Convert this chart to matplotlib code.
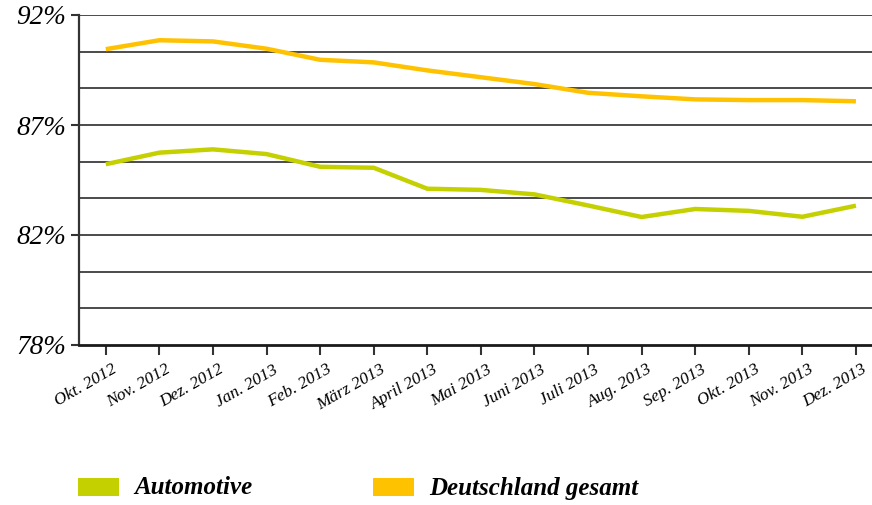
import matplotlib
matplotlib.use("Agg")
import matplotlib.pyplot as plt
from matplotlib.patches import Rectangle
import matplotlib.transforms as mtransforms
import numpy as np

months = ["Okt. 2012", "Nov. 2012", "Dez. 2012", "Jan. 2013", "Feb. 2013", "März 2013",
          "April 2013", "Mai 2013", "Juni 2013", "Juli 2013", "Aug. 2013", "Sep. 2013",
          "Okt. 2013", "Nov. 2013", "Dez. 2013"]
automotive = [85.67, 86.16, 86.30, 86.10, 85.56, 85.52, 84.63, 84.58, 84.39, 83.92,
              83.43, 83.77, 83.69, 83.44, 83.91]
deutschland = [90.55, 90.93, 90.88, 90.57, 90.10, 89.99, 89.65, 89.36, 89.07, 88.70,
               88.55, 88.42, 88.39, 88.39, 88.34]
ytick_values = [78, 82.667, 87.333, 92]
ytick_labels = ["78%", "82%", "87%", "92%"]
series_names = ["Automotive", "Deutschland gesamt"]

GREEN = "#c4d000"
ORANGE = "#ffc200"
FONT = "Liberation Serif"
W, H = 872, 505

fig = plt.figure(figsize=(W / 100, H / 100), dpi=100)
ax = fig.add_axes([79 / W, 1 - 345 / H, 1 - 79 / W, 330 / H])

x = np.arange(len(months))
ax.set_xlim(-0.5, 14.3)
ax.set_ylim(78, 92)

for g in np.linspace(78, 92, 10)[1:]:
    ax.axhline(g, color="#1a1a1a", lw=1.1, zorder=1)

ax.plot(x, automotive, color=GREEN, lw=3.2, solid_capstyle="butt", zorder=3)
ax.plot(x, deutschland, color=ORANGE, lw=3.2, solid_capstyle="butt", zorder=3)

for s in ["top", "right"]:
    ax.spines[s].set_visible(False)
ax.spines["left"].set_color("#333333")
ax.spines["left"].set_linewidth(1.6)
ax.spines["bottom"].set_color("#1a1a1a")
ax.spines["bottom"].set_linewidth(2.0)

ax.set_yticks(ytick_values)
ax.set_yticklabels(ytick_labels, fontfamily=FONT, fontstyle="italic", fontsize=19.5)
ax.tick_params(axis="y", length=6, width=1.5, color="#333333", pad=3)

ax.set_xticks(x)
ax.set_xticklabels(months, rotation=30, ha="right", rotation_mode="anchor",
                   fontfamily=FONT, fontstyle="italic", fontsize=12.5)
ax.tick_params(axis="x", length=7, width=1.5, color="#333333", pad=5)
offset = mtransforms.ScaledTranslation(6 / 100, 0, fig.dpi_scale_trans)
for lbl in ax.get_xticklabels():
    lbl.set_transform(lbl.get_transform() + offset)

# legend drawn manually
legend_items = [(series_names[0], GREEN, 78), (series_names[1], ORANGE, 373)]
for name, col, px in legend_items:
    fig.patches.append(Rectangle((px / W, 1 - 496 / H), 41 / W, 18 / H,
                                 transform=fig.transFigure, facecolor=col,
                                 edgecolor="none"))
    fig.text((px + 56) / W, 1 - 488 / H, name, ha="left", va="center",
             fontfamily=FONT, fontstyle="italic", fontweight="bold", fontsize=18)

fig.savefig("out.png", dpi=100, facecolor="white")
